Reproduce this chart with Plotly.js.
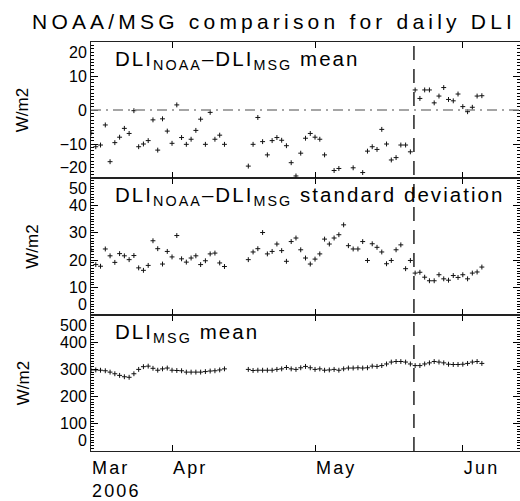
<!DOCTYPE html>
<html><head><meta charset="utf-8">
<script src="https://cdn.plot.ly/plotly-3.0.1.min.js"></script>
<style>
html,body{margin:0;padding:0;background:#fff;}
#chart .annotation-text {letter-spacing:0.1em;}
#chart .xtick text {letter-spacing:0.12em;}
#chart .gtitle {letter-spacing:0.2em;}
</style>
</head><body><div id="chart" style="width:520px;height:501px;"></div>
<script>
const dates = [
 '2006-03-15','2006-03-16','2006-03-17','2006-03-18','2006-03-19','2006-03-20','2006-03-21','2006-03-22','2006-03-23','2006-03-24',
 '2006-03-25','2006-03-26','2006-03-27','2006-03-28','2006-03-29','2006-03-30','2006-03-31','2006-04-01','2006-04-02','2006-04-03',
 '2006-04-04','2006-04-05','2006-04-06','2006-04-07','2006-04-08','2006-04-09','2006-04-10','2006-04-11','2006-04-12',
 '2006-04-17','2006-04-18','2006-04-19','2006-04-20','2006-04-21','2006-04-22','2006-04-23','2006-04-24','2006-04-25','2006-04-26',
 '2006-04-27','2006-04-28','2006-04-29','2006-04-30','2006-05-01','2006-05-02','2006-05-03','2006-05-04','2006-05-05','2006-05-06',
 '2006-05-07','2006-05-08','2006-05-09','2006-05-10','2006-05-11','2006-05-12','2006-05-13','2006-05-14','2006-05-15','2006-05-16',
 '2006-05-17','2006-05-18','2006-05-19','2006-05-20','2006-05-21','2006-05-22','2006-05-23','2006-05-24','2006-05-25','2006-05-26',
 '2006-05-27','2006-05-28','2006-05-29','2006-05-30','2006-05-31','2006-06-01','2006-06-02','2006-06-03','2006-06-04','2006-06-05'
];
// DLI_NOAA - DLI_MSG mean (W/m2)
const diffMean = [
 -6.8,-10.8,-10.3,-4.4,-15.2,-9.6,-8.0,-5.4,-6.9,-0.2,-10.8,-10.0,-9.0,-2.9,-11.8,-2.6,-6.2,-9.8,1.5,-8.1,
 -10.1,-8.6,-6.0,-2.7,-10.1,-0.7,-8.6,-7.4,-10.1,
 -16.5,-10.1,-2.2,-9.3,-13.2,-9.0,-8.1,-8.9,-10.5,-15.5,-19.4,-12.7,-8.3,-6.9,-8.0,-8.6,-13.2,null,-17.8,-17.2,
 null,null,-17.0,null,-18.4,-12.1,-10.8,-11.6,-5.7,-10.0,-14.7,-14.0,-10.3,-10.3,-12.3,
 5.9,3.4,5.9,5.9,2.1,4.1,6.6,3.1,2.7,4.7,1.0,-0.5,0.8,4.1,4.2
];
// DLI_NOAA - DLI_MSG standard deviation (W/m2)
const diffStd = [
 23.8,18.4,17.8,24.1,21.6,19.2,22.4,21.6,20.2,21.7,17.2,16.3,18.1,27.1,24.2,18.6,23.2,21.2,29.0,20.5,
 19.3,20.8,21.6,18.4,19.8,22.3,22.6,19.0,17.7,
 20.2,23.0,24.2,30.1,22.3,23.2,25.9,23.5,19.6,26.8,28.1,23.8,20.8,18.6,20.4,22.3,27.7,25.9,28.1,29.3,
 32.9,25.3,24.1,24.1,26.8,19.9,26.0,24.7,23.0,18.7,19.9,23.8,25.6,16.9,19.9,
 15.3,15.6,13.8,12.5,12.5,14.7,13.2,12.7,14.4,13.7,14.7,13.2,15.3,15.7,17.5
];
// DLI_MSG mean (W/m2)
const msgMean = [
 298,298,297,295,290,284,278,273,271,284,300,310,312,304,297,302,305,297,296,295,
 290,290,290,290,292,294,295,298,302,
 300,296,297,297,297,297,300,302,307,302,300,306,311,306,300,302,297,298,300,297,
 302,305,305,306,305,306,312,311,314,320,327,329,329,327,320,
 314,314,320,324,329,327,324,319,318,318,319,322,327,329,322
];
const monthTicks = ['2006-03-15','2006-04-01','2006-05-01','2006-06-01'];
const monthLabels = ['Mar<br>2006','Apr','May','Jun'];
const xRange = ['2006-03-15','2006-06-13'];
const splitDate = '2006-05-21 18:00';
// y tick values and labels (end labels nudged inward, IDL style)
const NB = '\u00a0';
const meanTicks = [-20,-10,0,10,20];
const meanLabels = ['\u221220<br>'+NB,'\u221210','0','10',NB+'<br>20'];
const stdTicks = [0,10,20,30,40,50];
const stdLabels = ['0<br>'+NB,'10','20','30','40',NB+'<br>50'];
const msgTicks = [0,100,200,300,400,500];
const msgLabels = ['0<br>'+NB,'100','200','300','400',NB+'<br>500'];
const panelTitles = [
 'DLI<sub>NOAA</sub>–DLI<sub>MSG</sub> mean',
 'DLI<sub>NOAA</sub>–DLI<sub>MSG</sub> standard deviation',
 'DLI<sub>MSG</sub> mean'
];

const FONT = 'Liberation Sans, Arial, sans-serif';
const mk = {symbol:'cross-thin', size:3.5, color:'#111', line:{width:1, color:'#111'}};
const traces = [
 {x:dates, y:diffMean, xaxis:'x3', yaxis:'y3', mode:'markers', marker:mk, type:'scatter'},
 {x:dates, y:diffStd, xaxis:'x2', yaxis:'y2', mode:'markers', marker:mk, type:'scatter'},
 {x:dates, y:msgMean, xaxis:'x', yaxis:'y', mode:'markers', marker:mk, type:'scatter'}
];
const xBase = {type:'date', range:xRange, tickvals:monthTicks, ticktext:monthLabels,
  ticks:'inside', ticklen:6, tickwidth:1, tickcolor:'#000', showline:true, linecolor:'#222', linewidth:1,
  mirror:'ticks', showgrid:false, zeroline:false, fixedrange:true};
function yAx(domain, range, tv, tt, minor){
  return {domain:domain, range:range, tickmode:'array', tickvals:tv, ticktext:tt,
    ticks:'inside', ticklen:7, tickwidth:1, tickcolor:'#000',
    minor:{tickmode:'linear', tick0:0, dtick:minor, ticklen:3, ticks:'inside', tickcolor:'#000', tickwidth:1, showgrid:false},
    showline:true, linecolor:'#222', linewidth:1, mirror:'ticks', showgrid:false, zeroline:false,
    tickfont:{family:FONT, size:16, color:'#000'},
    title:{text:'W/m2', font:{family:FONT, size:17, color:'#000'}, standoff:26}};
}
const d3 = 136/409;
function annot(i, ytop){
  return {text:panelTitles[i], xref:'paper', yref:'paper', x:22/429, y:ytop, xanchor:'left', yanchor:'top',
    align:'left', showarrow:false, font:{family:FONT, size:20.5, color:'#000'}};
}
const layout = {
  width:520, height:501, margin:{l:91, r:0, t:42, b:50}, showlegend:false,
  paper_bgcolor:'#fff', plot_bgcolor:'#fff', font:{family:FONT, color:'#000'},
  title:{text:'NOAA/MSG comparison for daily DLI', font:{family:FONT, size:21, color:'#000'},
         x:0.527, xref:'container', xanchor:'center', y:1-22/501, yref:'container', yanchor:'middle'},
  xaxis:Object.assign({}, xBase, {anchor:'y', showticklabels:true, ticklabelposition:'outside right',
         tickfont:{family:FONT, size:18, color:'#000'}}),
  xaxis2:Object.assign({}, xBase, {anchor:'y2', matches:'x', showticklabels:false}),
  xaxis3:Object.assign({}, xBase, {anchor:'y3', matches:'x', showticklabels:false}),
  yaxis:yAx([0, d3], [0, 500], msgTicks, msgLabels, 10),
  yaxis2:yAx([d3, 1-d3], [0, 50], stdTicks, stdLabels, 1),
  yaxis3:yAx([1-d3, 1], [-20, 20], meanTicks, meanLabels, 1),
  shapes:[
    {type:'line', xref:'x3 domain', x0:0, x1:1, yref:'y3', y0:0, y1:0,
     line:{color:'#888', width:1.5, dash:'10px,5px,2px,5px'}},
    {type:'line', xref:'x', x0:splitDate, x1:splitDate, yref:'paper', y0:0, y1:1,
     line:{color:'#000', width:1.3, dash:'14px,9px'}}
  ],
  annotations:[annot(0, 1-3/409), annot(1, 1-d3-3/409), annot(2, d3-3/409)]
};
Plotly.newPlot('chart', traces, layout, {staticPlot:true, displayModeBar:false});
</script>
</body></html>
